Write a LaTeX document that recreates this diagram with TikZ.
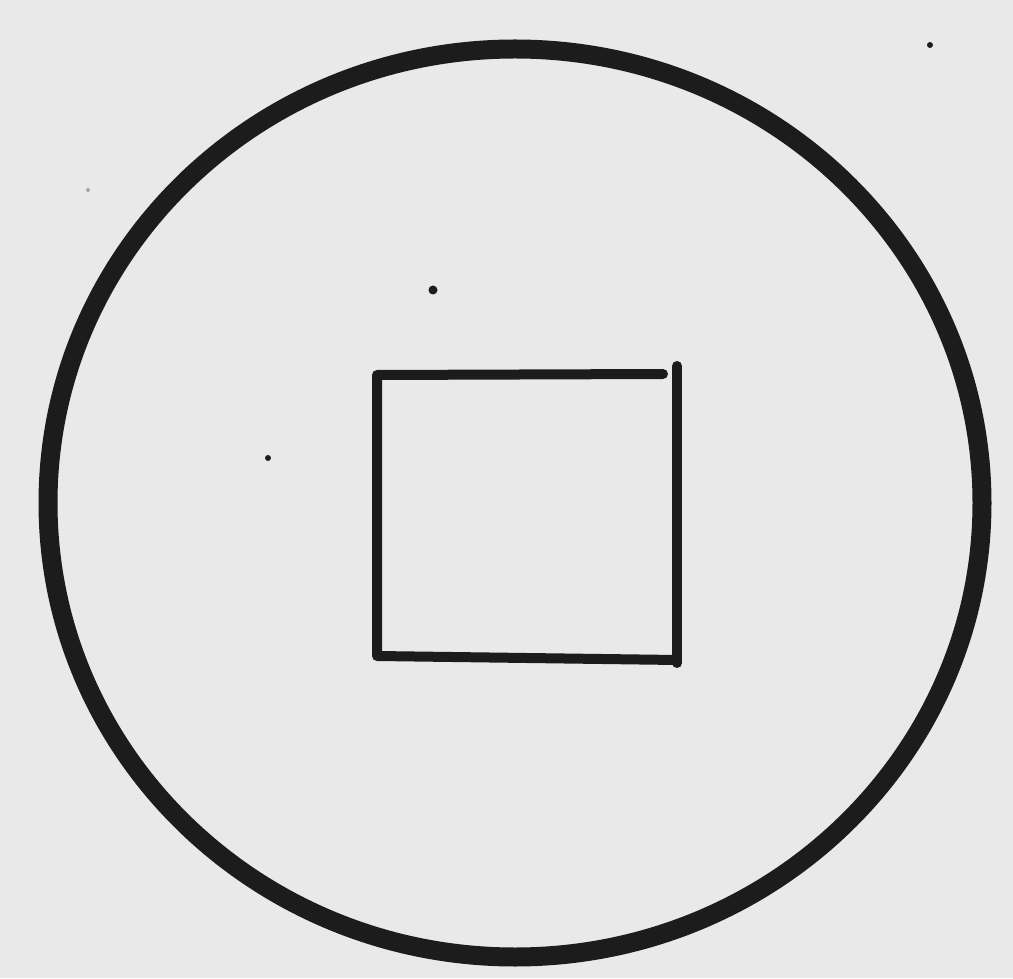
\documentclass[tikz,border=0pt]{standalone}
\usepackage{tikz}

\definecolor{paper}{RGB}{233,233,233}
\definecolor{ink}{RGB}{28,28,28}

\begin{document}
\begin{tikzpicture}[line cap=round, line join=round, ink]
    % 背景
    \fill[paper] (0,0) rectangle (10.13, 9.78);
    \useasboundingbox (0,0) rectangle (10.13, 9.78);

    % 外円
    \draw[line width=0.19cm] (5.15, 4.75) ellipse (4.67 and 4.54);

    % 四角い穴
    \begin{scope}[line width=0.1cm]
        \draw (6.63, 6.04) -- (3.77, 6.03) -- (3.77, 3.22) -- (6.77, 3.18);
        \draw (6.77, 6.12) -- (6.77, 3.15);
    \end{scope}

    % 汚れ
    \fill (4.33, 6.88) circle (0.045);
    \fill (2.68, 5.20) circle (0.03);
    \fill (9.30, 9.33) circle (0.03);
    \fill[ink!40] (0.88, 7.88) circle (0.02);
\end{tikzpicture}
\end{document}
